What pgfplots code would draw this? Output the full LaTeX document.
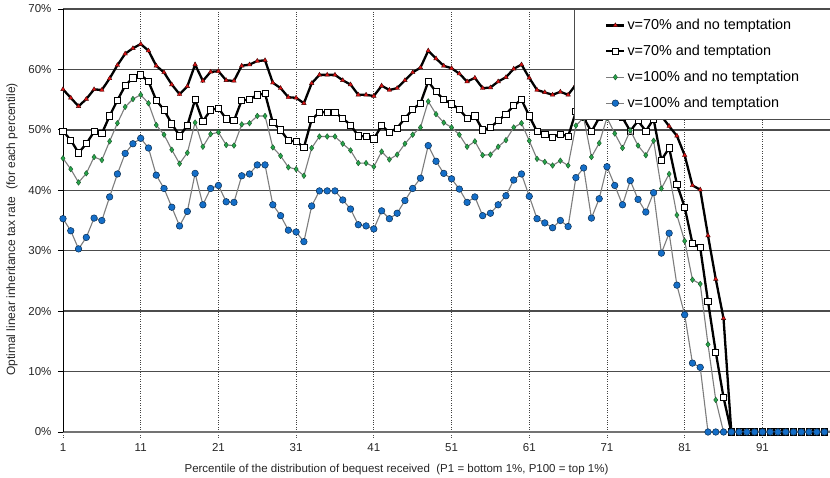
\documentclass[border=0pt]{standalone}
\usepackage{pgfplots}
\usepackage{pgfplotstable}
\pgfplotsset{compat=1.18}
\usepackage{fontspec}
\setmainfont{Liberation Sans}
\definecolor{mred}{RGB}{225,20,20}
\definecolor{mgreen}{RGB}{40,165,75}
\definecolor{mblue}{RGB}{20,110,200}
\definecolor{lgray}{RGB}{125,125,125}

\pgfplotstableread{
x a b c d
1 56.7 49.8 45.3 35.3
2 55.3 48.3 43.5 33.3
3 53.9 46.2 41.3 30.3
4 55.1 47.7 42.8 32.2
5 56.7 49.7 45.5 35.4
6 56.6 49.4 45.0 35.0
7 58.5 52.3 48.1 38.9
8 60.7 54.9 51.1 42.7
9 62.6 57.3 53.8 46.1
10 63.5 58.6 55.1 47.7
11 64.2 59.1 55.8 48.6
12 63.1 58.0 54.4 47.0
13 60.6 54.9 50.8 42.5
14 59.5 53.3 49.2 40.3
15 57.5 51.0 46.7 37.2
16 55.9 49.0 44.4 34.1
17 57.2 50.7 46.2 36.5
18 60.8 55.0 51.2 42.8
19 58.1 51.4 47.2 37.6
20 59.6 53.3 49.3 40.3
21 59.7 53.6 49.6 40.8
22 58.2 51.8 47.5 38.1
23 58.1 51.5 47.4 38.0
24 60.6 54.9 50.9 42.4
25 60.8 55.0 51.1 42.7
26 61.4 55.8 52.3 44.2
27 61.5 56.0 52.3 44.2
28 57.8 51.2 47.1 37.6
29 56.9 50.0 45.7 35.8
30 55.4 48.2 43.8 33.4
31 55.3 48.1 43.5 33.1
32 54.4 47.1 42.4 31.5
33 57.7 51.7 47.0 37.4
34 59.1 52.9 48.9 39.9
35 59.1 52.9 48.9 39.9
36 59.1 52.9 48.9 39.9
37 58.2 51.9 47.7 38.4
38 57.5 50.8 46.6 36.9
39 55.8 49.0 44.5 34.3
40 55.8 48.9 44.5 34.1
41 55.6 48.5 43.9 33.6
42 57.3 50.7 46.4 36.6
43 56.6 49.6 45.1 35.3
44 56.9 50.3 45.9 36.2
45 58.2 51.9 47.7 38.3
46 59.5 53.4 49.2 40.3
47 60.3 54.4 50.4 42.0
48 63.1 58.0 54.7 47.4
49 61.8 56.3 52.6 44.8
50 60.6 55.0 51.2 42.8
51 60.2 54.3 50.4 41.9
52 59.3 53.4 49.2 40.2
53 58.0 51.9 47.2 38.0
54 58.6 52.3 48.1 38.9
55 56.9 50.0 45.8 35.8
56 57.0 50.4 45.9 36.2
57 58.0 51.5 47.2 37.6
58 58.7 52.6 48.3 39.1
59 60.1 54.0 50.4 41.7
60 60.8 55.0 51.1 42.7
61 58.6 52.3 48.2 39.0
62 56.6 49.7 45.2 35.3
63 56.2 49.2 44.7 34.6
64 55.8 48.8 44.1 33.8
65 56.3 49.3 44.9 35.0
66 55.8 48.9 44.1 34.0
67 57.5 53.0 50.7 42.1
68 59.0 52.0 52.0 43.7
69 56.0 49.7 45.5 35.4
70 58.0 52.0 47.8 38.6
71 59.5 53.5 52.0 43.9
72 58.0 52.5 49.4 40.8
73 57.5 52.0 47.0 37.6
74 56.0 49.8 49.9 41.6
75 57.5 51.5 47.4 38.5
76 56.0 49.8 45.8 36.4
77 57.5 51.8 48.2 39.6
78 52.3 45.0 40.3 29.6
79 50.6 47.0 42.7 32.9
80 49.0 41.0 35.9 24.3
81 45.8 37.2 31.6 19.4
82 40.8 31.2 25.2 11.4
83 40.1 30.5 24.5 10.7
84 32.5 21.6 14.5 0
85 25.3 13.2 5.3 0
86 18.8 5.7 0 0
87 0 0 0 0
88 0 0 0 0
89 0 0 0 0
90 0 0 0 0
91 0 0 0 0
92 0 0 0 0
93 0 0 0 0
94 0 0 0 0
95 0 0 0 0
96 0 0 0 0
97 0 0 0 0
98 0 0 0 0
99 0 0 0 0
100 0 0 0 0
}\data

\begin{document}
\begin{tikzpicture}
\begin{axis}[
  name=ax,
  scale only axis,
  width=767pt, height=423pt,
  xmin=1, xmax=99.7,
  ymin=0, ymax=70,
  axis lines=left,
  axis line style={-},
  x axis line style={draw=black!55, line width=1.6pt},
  y axis line style={draw=black, line width=0.9pt},
  xtick={1,11,21,31,41,51,61,71,81,91},
  ytick={0,10,20,30,40,50,60,70},
  yticklabels={0\%,10\%,20\%,30\%,40\%,50\%,60\%,70\%},
  /pgf/number format/assume math mode=true,
  tick align=outside,
  major tick length=5pt,
  ytick style={draw=black, line width=0.8pt},
  xtick style={draw=black!70, dotted, line width=0.7pt},
  ymajorgrids,
  xmajorgrids,
  y grid style={draw=black!70, line width=1.3pt},
  x grid style={draw=black!75, dotted, line width=0.7pt},
  tick label style={font=\fontsize{11.5}{13}\selectfont, text=black!85},
  yticklabel style={xshift=-3pt},
  xticklabel style={yshift=-3pt},
  xlabel={Percentile of the distribution of bequest received\ \ (P1 = bottom 1\%, P100 = top 1\%)},
  ylabel={Optimal linear inheritance tax rate\ \ (for each percentile)},
  label style={font=\fontsize{11.5}{13}\selectfont, text=black!85},
  ylabel style={font=\fontsize{12}{13}\selectfont},
  xlabel style={yshift=-6pt, xshift=-50pt},
  ylabel style={yshift=4pt, xshift=-9pt},
  clip mode=individual,
  legend cell align=left,
  legend style={
    at={(axis description cs:0.666,1)}, anchor=north west,
    draw=black!70, line width=0.8pt, fill=white,
    font=\fontsize{14.4}{16}\selectfont,
    inner xsep=31pt, inner ysep=8pt,
    row sep=10pt,
  },
  legend image code/.code={
    \draw[mark repeat=2,mark phase=2,#1] plot coordinates {(0pt,0pt) (9pt,0pt) (18pt,0pt)};
  },
]
\addplot[black, line width=2.3pt, mark=triangle*, mark size=2.6pt,
  mark options={fill=mred, draw=black!70!mred, line width=0.4pt, solid}]
  table[x=x,y=a]{\data};
\addlegendentry{v=70\% and no temptation}
\addplot[black, line width=2.3pt, mark=square*, mark size=3.1pt,
  mark options={fill=white, draw=black, line width=0.8pt, solid}]
  table[x=x,y=b]{\data};
\addlegendentry{v=70\% and temptation}
\addplot[lgray, line width=1.1pt, mark=diamond*, mark size=2.8pt,
  mark options={fill=mgreen, draw=black!50!mgreen, line width=0.4pt, solid}]
  table[x=x,y=c]{\data};
\addlegendentry{v=100\% and no temptation}
\addplot[lgray, line width=1.1pt, mark=*, mark size=3.3pt,
  mark options={fill=mblue, draw=black!60!mblue, line width=0.5pt, solid}]
  table[x=x,y=d]{\data};
\addlegendentry{v=100\% and temptation}
\end{axis}
\pgfresetboundingbox
\path[use as bounding box] (ax.south west) ++(-63pt,-46pt) rectangle ++(830pt,478pt);
\end{tikzpicture}
\end{document}
